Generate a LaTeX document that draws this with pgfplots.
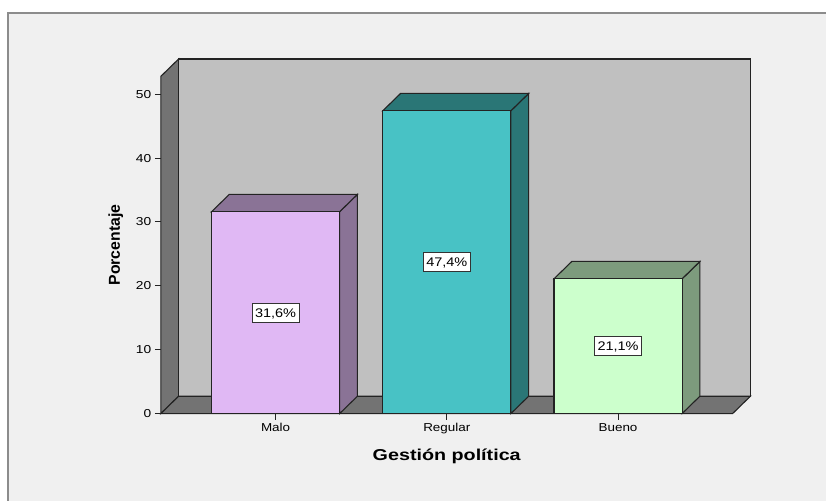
\documentclass[border=0pt]{standalone}
\usepackage{pgfplots}
\pgfplotsset{compat=1.18}
\usepackage{fontspec}
\setmainfont{Liberation Sans}
\definecolor{bgc}{RGB}{240,240,240}
\definecolor{framec}{RGB}{140,140,140}
\definecolor{wallc}{RGB}{192,192,192}
\definecolor{sidec}{RGB}{115,115,115}
\definecolor{malo}{RGB}{224,184,244}
\definecolor{malod}{RGB}{138,115,150}
\definecolor{regular}{RGB}{72,194,197}
\definecolor{regulard}{RGB}{42,118,118}
\definecolor{bueno}{RGB}{204,255,204}
\definecolor{buenod}{RGB}{125,155,125}
\definecolor{edge}{RGB}{35,35,35}
\begin{document}
\begin{tikzpicture}
\fill[white] (-161pt,-87pt) rectangle (666pt,414pt);
\fill[bgc] (-153pt,-87pt) rectangle (666pt,401pt);
\draw[framec, line width=1.6pt] (-153pt,-87pt) -- (-153pt,401pt) -- (666pt,401pt);
\begin{axis}[
  at={(0pt,0pt)}, anchor=south west,
  scale only axis, width=572.3pt, height=337.6pt,
  xmin=-0.670, xmax=2.669, ymin=0, ymax=52.8,
  clip=false,
  axis line style={draw=none},
  tick pos=left, tick align=outside,
  major tick length=6pt,
  tick style={edge, line width=1pt},
  xtick={0,1,2},
  xticklabels={{\scalebox{1.17}[1]{Malo}},{\scalebox{1.17}[1]{Regular}},{\scalebox{1.17}[1]{Bueno}}},
  ytick={0,10,20,30,40,50},
  /pgf/number format/assume math mode=true,
  yticklabel={\scalebox{1.2}[1]{\pgfmathprintnumber{\tick}}},
  ticklabel style={font=\fontsize{11.5}{13}\selectfont, text=black},
  xlabel={\scalebox{1.25}[1]{Gestión política}},
  ylabel={Porcentaje},
  xlabel style={at={(axis description cs:0.5,-0.1383)}, anchor=base, font=\bfseries\fontsize{15.8}{18}\selectfont},
  ylabel style={at={(axis description cs:-0.0716,0.5)}, anchor=base, font=\bfseries\fontsize{15.8}{18}\selectfont},
]
% walls and floor
\addplot[fill=sidec, draw=edge, line width=1.1pt] coordinates {(-0.670,0) (-0.670,52.8) (-0.566,55.52) (-0.566,2.72)} --cycle;
\addplot[fill=wallc, draw=edge, line width=1.1pt] coordinates {(-0.566,2.72) (-0.566,55.52) (2.773,55.52) (2.773,2.72)} --cycle;
\addplot[fill=sidec, draw=edge, line width=1.1pt] coordinates {(-0.670,0) (2.669,0) (2.773,2.72) (-0.566,2.72)} --cycle;
% Malo
\addplot[fill=malod, draw=edge, line width=1.1pt] coordinates {(0.374,0) (0.478,2.72) (0.478,34.32) (0.374,31.6)} --cycle;
\addplot[fill=malod, draw=edge, line width=1.1pt] coordinates {(-0.374,31.6) (-0.270,34.32) (0.478,34.32) (0.374,31.6)} --cycle;
\addplot[ybar, bar width=0.748, fill=malo, draw=edge, line width=1.1pt] coordinates {(0,31.6)};
% Regular
\addplot[fill=regulard, draw=edge, line width=1.1pt] coordinates {(1.374,0) (1.478,2.72) (1.478,50.12) (1.374,47.4)} --cycle;
\addplot[fill=regulard, draw=edge, line width=1.1pt] coordinates {(0.626,47.4) (0.730,50.12) (1.478,50.12) (1.374,47.4)} --cycle;
\addplot[ybar, bar width=0.748, fill=regular, draw=edge, line width=1.1pt] coordinates {(1,47.4)};
% Bueno
\addplot[fill=buenod, draw=edge, line width=1.1pt] coordinates {(2.374,0) (2.478,2.72) (2.478,23.82) (2.374,21.1)} --cycle;
\addplot[fill=buenod, draw=edge, line width=1.1pt] coordinates {(1.626,21.1) (1.730,23.82) (2.478,23.82) (2.374,21.1)} --cycle;
\addplot[ybar, bar width=0.748, fill=bueno, draw=edge, line width=1.1pt] coordinates {(2,21.1)};
% value labels
\tikzset{vl/.style={fill=white, draw=black!80, line width=0.9pt, font=\fontsize{12.5}{14}\selectfont, inner xsep=3pt, inner ysep=5pt, text height=9pt, text depth=0pt}}
\node[vl] at (axis cs:0,15.8) {\scalebox{1.16}[1]{31,6\%}};
\node[vl] at (axis cs:1,23.7) {\scalebox{1.16}[1]{47,4\%}};
\node[vl] at (axis cs:2,10.55) {\scalebox{1.16}[1]{21,1\%}};
\end{axis}
\end{tikzpicture}
\end{document}
